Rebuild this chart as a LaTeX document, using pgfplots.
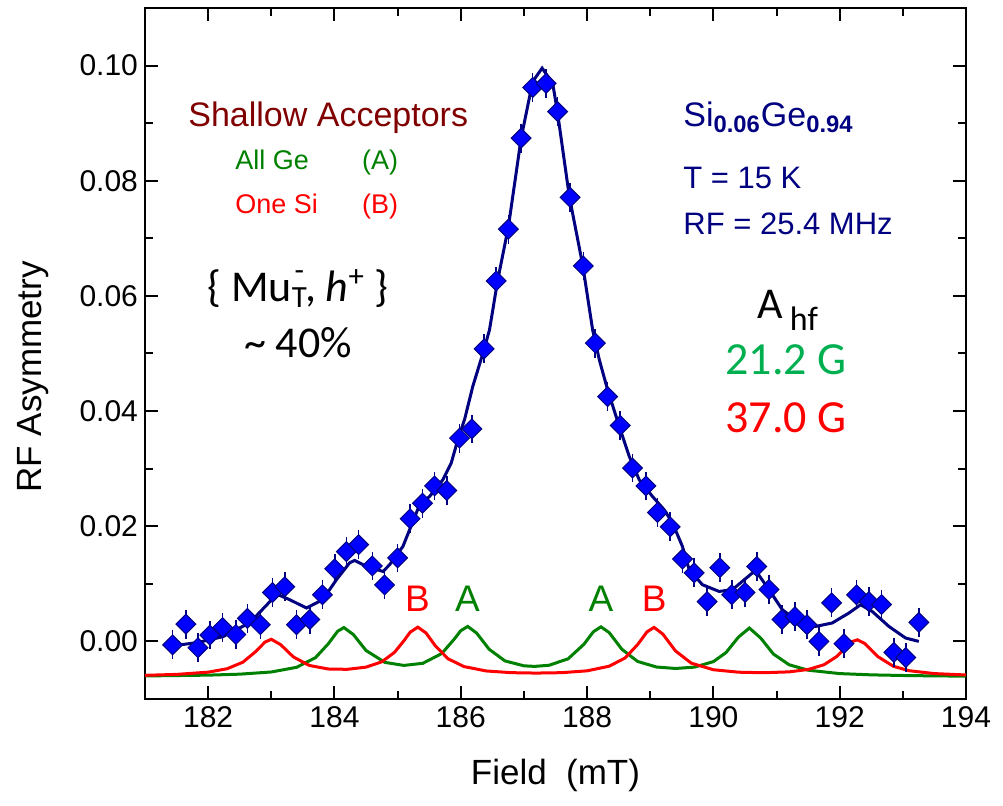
\documentclass[border=0pt]{standalone}
\usepackage{fontspec}
\setmainfont{Liberation Sans}
\newfontfamily\calib{Carlito}
\usepackage{pgfplots}
\pgfplotsset{compat=1.18}
\usepackage{pgfplotstable}
\definecolor{navy}{RGB}{0,0,128}
\definecolor{mublue}{RGB}{0,0,255}
\definecolor{dgreen}{RGB}{0,128,0}
\definecolor{lgreen}{RGB}{0,176,80}
\definecolor{dred}{RGB}{128,0,0}

\pgfplotstableread{
x y e
181.438 -0.0006 0.0025
181.648 0.0030 0.0025
181.838 -0.0011 0.0025
182.028 0.0011 0.0025
182.228 0.0024 0.0025
182.439 0.0012 0.0025
182.621 0.0040 0.0025
182.826 0.0029 0.0025
183.019 0.0085 0.0025
183.213 0.0095 0.0025
183.398 0.0029 0.0025
183.609 0.0038 0.0025
183.809 0.0081 0.0025
184.004 0.0126 0.0025
184.189 0.0156 0.0025
184.383 0.0168 0.0025
184.600 0.0131 0.0025
184.794 0.0098 0.0025
185.000 0.0145 0.0025
185.198 0.0213 0.0025
185.395 0.0240 0.0025
185.585 0.0270 0.0025
185.779 0.0262 0.0025
185.980 0.0353 0.0025
186.175 0.0369 0.0025
186.371 0.0508 0.0025
186.561 0.0626 0.0025
186.755 0.0716 0.0025
186.956 0.0874 0.0025
187.139 0.0962 0.0025
187.351 0.0969 0.0025
187.534 0.0920 0.0025
187.731 0.0771 0.0025
187.941 0.0652 0.0025
188.130 0.0518 0.0025
188.325 0.0425 0.0025
188.526 0.0375 0.0025
188.720 0.0301 0.0025
188.932 0.0270 0.0025
189.115 0.0224 0.0025
189.316 0.0199 0.0025
189.511 0.0143 0.0025
189.696 0.0119 0.0025
189.901 0.0069 0.0025
190.102 0.0128 0.0025
190.292 0.0081 0.0025
190.502 0.0085 0.0025
190.687 0.0130 0.0025
190.881 0.0090 0.0025
191.087 0.0038 0.0025
191.292 0.0043 0.0025
191.482 0.0029 0.0025
191.672 0.0000 0.0025
191.873 0.0067 0.0025
192.067 -0.0004 0.0025
192.268 0.0081 0.0025
192.462 0.0069 0.0025
192.663 0.0064 0.0025
192.858 -0.0019 0.0025
193.047 -0.0028 0.0025
193.253 0.0033 0.0025
}\datatab

\pgfplotstableread{
x y
181.438 -0.00075
181.817 -0.00023
182.233 0.00082
182.66 0.00325
182.976 0.00689
183.108 0.00811
183.292 0.00724
183.557 0.0058
183.814 0.00724
184.031 0.01071
184.241 0.01366
184.32 0.01406
184.51 0.0130
184.768 0.01215
184.874 0.01332
185.084 0.01649
185.348 0.02373
185.506 0.02517
185.716 0.02807
185.849 0.03097
185.953 0.03502
186.059 0.03849
186.19 0.04427
186.364 0.05052
186.455 0.05411
186.586 0.0628
186.755 0.07205
186.956 0.0874
187.139 0.09722
187.288 0.09955
187.455 0.09694
187.53 0.09201
187.719 0.07726
187.93 0.0654
188.088 0.05411
188.194 0.04891
188.325 0.0437
188.51 0.03733
188.668 0.03212
188.826 0.02807
189.036 0.02517
189.221 0.02286
189.353 0.02056
189.51 0.01649
189.617 0.01245
189.827 0.00984
190.091 0.00868
190.301 0.00898
190.617 0.01188
190.696 0.01188
190.881 0.00898
191.092 0.0055
191.303 0.00377
191.62 0.0026
191.882 0.0032
192.146 0.00493
192.331 0.00637
192.515 0.00521
192.779 0.0026
193.043 0.00059
193.253 0.0
}\fittab

\pgfplotstableread{
x y
181 -0.0060
182 -0.00586
182.5 -0.00569
183 -0.00531
183.4 -0.0045
183.7 -0.00282
183.9 -0.00044
184.05 0.00176
184.15 0.00241
184.3 0.00118
184.5 -0.00158
184.8 -0.00365
185.1 -0.00417
185.4 -0.0038
185.7 -0.0021
185.9 0.00044
186.0 0.00186
186.11 0.0026
186.25 0.00146
186.45 -0.00137
186.7 -0.00339
187.0 -0.00424
187.17 -0.00434
187.4 -0.00414
187.7 -0.00302
187.95 -0.0005
188.1 0.00168
188.22 0.00253
188.35 0.00153
188.55 -0.00135
188.8 -0.00348
189.1 -0.00445
189.4 -0.0047
189.7 -0.00447
190.0 -0.00351
190.2 -0.00194
190.4 0.00078
190.57 0.00232
190.75 0.00057
190.95 -0.00219
191.2 -0.00406
191.5 -0.005
192.0 -0.00559
192.5 -0.00581
193 -0.00592
193.5 -0.00599
194 -0.00603
}\greentab

\pgfplotstableread{
x y
181 -0.00589
181.5 -0.00573
182 -0.00534
182.3 -0.00475
182.55 -0.00361
182.75 -0.00179
182.9 -0.00012
183.0 0.00037
183.15 -0.00058
183.35 -0.0027
183.6 -0.00417
183.9 -0.00479
184.2 -0.00485
184.5 -0.00447
184.75 -0.00354
184.95 -0.00191
185.1 0.00012
185.2 0.00161
185.32 0.00248
185.45 0.00146
185.6 -0.00081
185.8 -0.00302
186.05 -0.00437
186.4 -0.00513
186.8 -0.00543
187.19 -0.0055
187.6 -0.00543
188.0 -0.00511
188.35 -0.00431
188.6 -0.00289
188.8 -0.00056
188.95 0.00167
189.06 0.00243
189.2 0.00127
189.4 -0.00165
189.65 -0.00378
190.0 -0.00492
190.4 -0.00535
190.8 -0.00544
191.2 -0.00529
191.5 -0.00488
191.75 -0.00406
191.95 -0.00265
192.1 -0.00103
192.2 -0.00002
192.28 0.00028
192.4 -0.00039
192.6 -0.00261
192.85 -0.00432
193.1 -0.00509
193.5 -0.00559
194 -0.00583
}\redtab

\begin{document}
\begin{tikzpicture}
\path[use as bounding box] (-72.5pt,-53.5pt) rectangle (429pt,349.5pt);
\begin{axis}[
  at={(0pt,0pt)}, anchor=south west,
  scale only axis, width=410.5pt, height=345.5pt,
  xmin=181, xmax=194, ymin=-0.01, ymax=0.11,
  xtick={182,184,186,188,190,192,194}, minor x tick num=1,
  ytick={0,0.02,0.04,0.06,0.08,0.10}, minor y tick num=1,
  tick align=inside,
  major tick length=6.5pt, minor tick length=4pt,
  every tick/.style={black, line width=1pt},
  axis line style={line width=1.3pt},
  /pgf/number format/assume math mode=true,
  ticklabel style={font=\fontsize{15}{15}\selectfont},
  yticklabel style={/pgf/number format/.cd, fixed, fixed zerofill, precision=2},
  xticklabel style={/pgf/number format/.cd, fixed, precision=0, 1000 sep={}},
  scaled y ticks=false,
  xlabel={Field\ \ (mT)}, ylabel={RF Asymmetry},
  label style={font=\fontsize{17.5}{17.5}\selectfont},
  xlabel style={at={(axis description cs:0.5,-0.11)}, anchor=center},
  ylabel style={at={(axis description cs:-0.1364,0.466)}, anchor=center},
  clip=false,
]
\addplot[dgreen, line width=1.5pt] table[x=x,y=y] {\greentab};
\addplot[red, line width=1.5pt] table[x=x,y=y] {\redtab};
\addplot[only marks, mark=square*, mark size=3.5pt,
  mark options={rotate=45, fill=mublue, draw=navy, line width=0.5pt},
  error bars/.cd, y dir=both, y explicit, error mark=none,
  error bar style={navy, line width=0.8pt}]
  table[x=x, y=y, y error=e] {\datatab};
\addplot[navy, line width=1.5pt] table[x=x,y=y] {\fittab};

\node[anchor=base, text=red, font=\fontsize{18.5}{18.5}\selectfont] at (axis cs:185.316,0.0052) {B};
\node[anchor=base, text=dgreen, font=\fontsize{18.5}{18.5}\selectfont] at (axis cs:186.107,0.0052) {A};
\node[anchor=base, text=dgreen, font=\fontsize{18.5}{18.5}\selectfont] at (axis cs:188.22,0.0052) {A};
\node[anchor=base, text=red, font=\fontsize{18.5}{18.5}\selectfont] at (axis cs:189.063,0.0052) {B};

\node[anchor=base west, text=dred, font=\fontsize{17}{17}\selectfont, inner sep=0pt] at (axis description cs:0.0524,0.828) {Shallow Acceptors};
\node[anchor=base west, text=dgreen, font=\fontsize{13.5}{13.5}\selectfont, inner sep=0pt] at (axis description cs:0.1096,0.7656) {All Ge};
\node[anchor=base west, text=dgreen, font=\fontsize{13.5}{13.5}\selectfont, inner sep=0pt] at (axis description cs:0.264,0.7656) {(A)};
\node[anchor=base west, text=red, font=\fontsize{13.5}{13.5}\selectfont, inner sep=0pt] at (axis description cs:0.1096,0.703) {One Si};
\node[anchor=base west, text=red, font=\fontsize{13.5}{13.5}\selectfont, inner sep=0pt] at (axis description cs:0.264,0.703) {(B)};

\node[anchor=base, font=\calib\fontsize{22}{22}\selectfont, inner sep=0pt] at (axis description cs:0.1864,0.575) {\{ Mu\textsubscript{T}\kern-0.3em\raisebox{0.15em}{\textsuperscript{-}}, \textit{h}\textsuperscript{+} \}};
\node[anchor=base, font=\calib\fontsize{22}{22}\selectfont, inner sep=0pt] at (axis description cs:0.1864,0.4935) {\textasciitilde\ 40\%};

\node[anchor=base west, text=navy, font=\fontsize{17}{17}\selectfont, inner sep=0pt] at (axis description cs:0.6553,0.828) {Si\textsubscript{\textbf{0.06}}Ge\textsubscript{\textbf{0.94}}};
\node[anchor=base west, text=navy, font=\fontsize{15.5}{15.5}\selectfont, inner sep=0pt] at (axis description cs:0.6553,0.739) {T = 15 K};
\node[anchor=base west, text=navy, font=\fontsize{15.5}{15.5}\selectfont, inner sep=0pt] at (axis description cs:0.6553,0.6715) {RF = 25.4 MHz};

\node[anchor=base west, font=\calib\fontsize{22}{22}\selectfont, inner sep=0pt] at (axis description cs:0.745,0.551) {A\,\raisebox{-6pt}{\fontsize{17}{17}\selectfont hf}};
\node[anchor=base west, text=lgreen, font=\calib\fontsize{23}{23}\selectfont, inner sep=0pt] at (axis description cs:0.7065,0.469) {21.2 G};
\node[anchor=base west, text=red, font=\calib\fontsize{23}{23}\selectfont, inner sep=0pt] at (axis description cs:0.7065,0.385) {37.0 G};
\end{axis}
\end{tikzpicture}
\end{document}
